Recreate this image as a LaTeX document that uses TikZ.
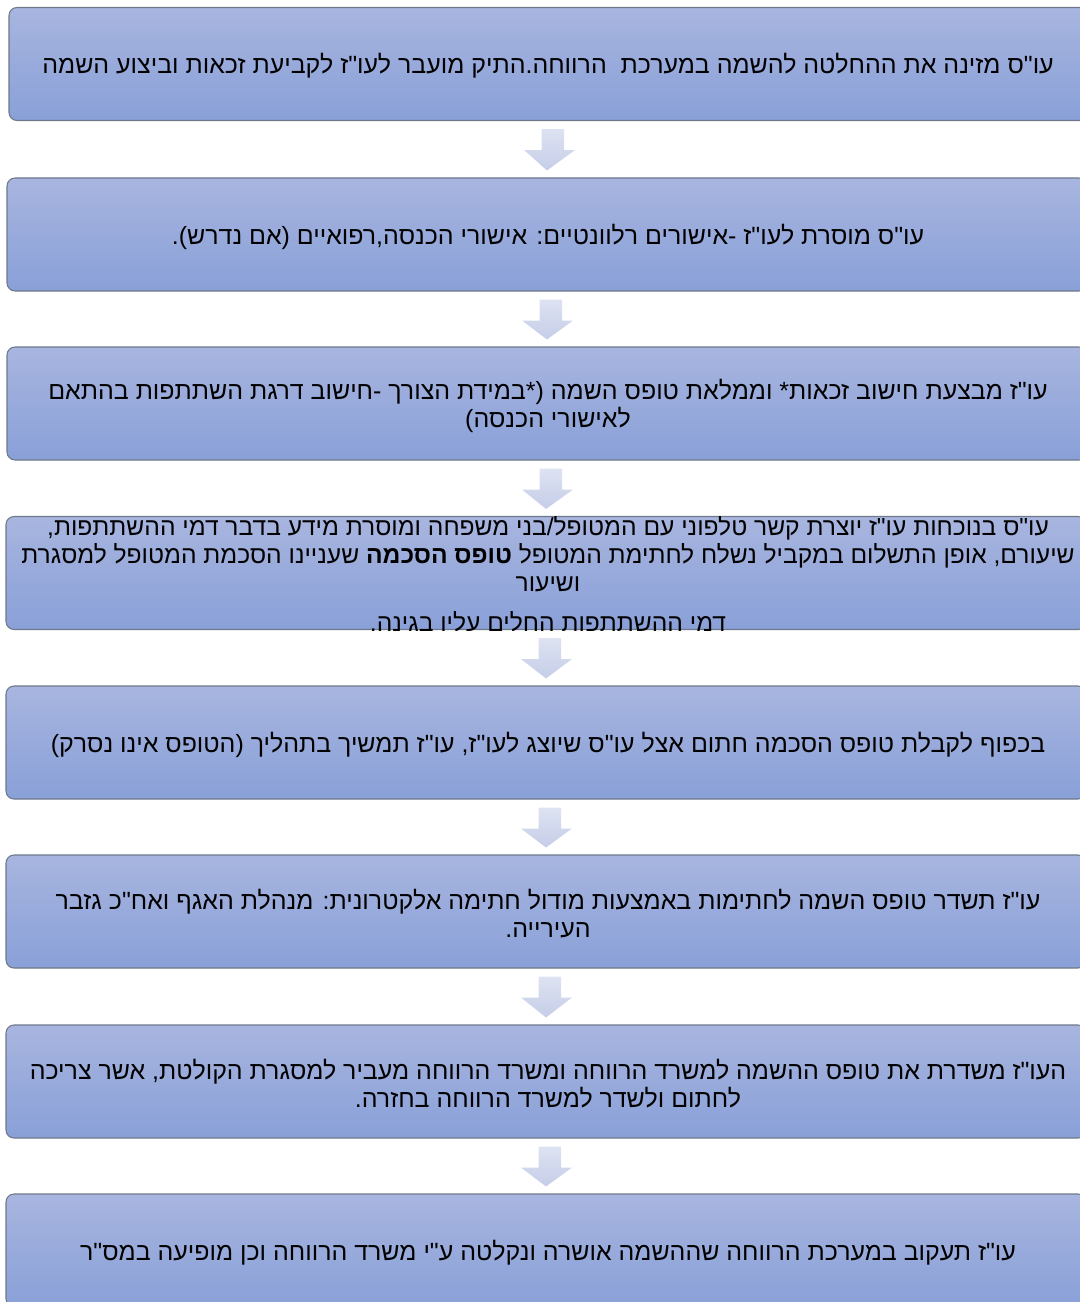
\documentclass[tikz,border=0pt]{standalone}
\usepackage{fontspec}
\newfontfamily\hebfont[Script=Hebrew]{Liberation Sans}
\TeXXeTstate=1
\usetikzlibrary{calc}
\definecolor{boxtop}{HTML}{A8B5DF}
\definecolor{boxbot}{HTML}{89A0D8}
\definecolor{boxline}{HTML}{6F7889}
\definecolor{arrtop}{HTML}{DEE3F2}
\definecolor{arrbot}{HTML}{C5CDE8}
\tikzset{
  flowbox/.style={draw=boxline, line width=0.8pt, rounded corners=6pt,
    top color=boxtop, bottom color=boxbot, inner sep=0pt,
    minimum width=810pt, minimum height=84.75pt},
  flowtext/.style={font=\hebfont\fontsize{18.7}{21}\selectfont, align=center,
    text=black, inner sep=0pt},
  densetext/.style={flowtext, font=\hebfont\fontsize{18.45}{21}\selectfont},
  blockarrow/.style={top color=arrtop, bottom color=arrbot, draw=none}
}
\newcommand\flowarrow[2]{%
  \path[blockarrow] ($(#1.south)+(-7.5,8)$) -- ($(#1.south)+(15,8)$)
    -- ($(#1.south)+(15,29)$) -- ($(#1.south)+(26,29)$)
    -- ($(#2.north)+(0,-7)$) -- ($(#1.south)+(-25,29)$)
    -- ($(#1.south)+(-7.5,29)$) -- cycle;}
\newcommand\rl[1]{\beginR #1\endR}
\begin{document}
\begin{tikzpicture}[x=0.75pt,y=-0.75pt]
\useasboundingbox (0,0) rectangle (1080,1302);
\clip (0,0) rectangle (1080,1302);
% boxes
\node[flowbox] (b1) at (549,64) {};
\node[flowbox] (b2) at (547,234.5) {};
\node[flowbox] (b3) at (547,403.5) {};
\node[flowbox] (b4) at (546,573) {};
\node[flowbox] (b5) at (546,742.5) {};
\node[flowbox] (b6) at (546,911.5) {};
\node[flowbox] (b7) at (546,1081.5) {};
\node[flowbox] (b8) at (546,1250.5) {};
% texts
\node[flowtext] (t1) at (548,66) {\rl{עו"ס מזינה את ההחלטה להשמה במערכת\ \ הרווחה.התיק מועבר לעו"ז לקביעת זכאות וביצוע השמה}};
\node[flowtext] (t2) at (548,236.5) {\rl{עו"ס מוסרת לעו"ז -אישורים רלוונטיים: אישורי הכנסה,רפואיים (אם נדרש).}};
\node[flowtext] (t3) at (548,406) {\rl{עו"ז מבצעת חישוב זכאות* וממלאת טופס השמה (*במידת הצורך -חישוב דרגת השתתפות בהתאם}\\\rl{לאישורי הכנסה)}};
\begin{scope}
\clip[rounded corners=6pt] (b4.south west) rectangle (b4.north east);
\node[densetext] (t4) at (548,574) {\rl{עו"ס בנוכחות עו"ז יוצרת קשר טלפוני עם המטופל/בני משפחה ומוסרת מידע בדבר דמי ההשתתפות,}\\\rl{שיעורם, אופן התשלום במקביל נשלח לחתימת המטופל {\bfseries טופס הסכמה} שעניינו הסכמת המטופל למסגרת}\\\rl{ושיעור}\\[9pt]\rl{דמי ההשתתפות החלים עליו בגינה.}};
\end{scope}
\node[flowtext] (t5) at (548,744.5) {\rl{בכפוף לקבלת טופס הסכמה חתום אצל עו"ס שיוצג לעו"ז, עו"ז תמשיך בתהליך (הטופס אינו נסרק)}};
\node[flowtext] (t6) at (548,914) {\rl{עו"ז תשדר טופס השמה לחתימות באמצעות מודול חתימה אלקטרונית: מנהלת האגף ואח"כ גזבר}\\\rl{העירייה.}};
\node[flowtext] (t7) at (548,1084) {\rl{העו"ז משדרת את טופס ההשמה למשרד הרווחה ומשרד הרווחה מעביר למסגרת הקולטת, אשר צריכה}\\\rl{לחתום ולשדר למשרד הרווחה בחזרה.}};
\node[flowtext] (t8) at (548,1252.5) {\rl{עו"ז תעקוב במערכת הרווחה שההשמה אושרה ונקלטה ע"י משרד הרווחה וכן מופיעה במס"ר}};
% arrows
\flowarrow{b1}{b2}
\flowarrow{b2}{b3}
\flowarrow{b3}{b4}
\flowarrow{b4}{b5}
\flowarrow{b5}{b6}
\flowarrow{b6}{b7}
\flowarrow{b7}{b8}
\end{tikzpicture}
\end{document}
